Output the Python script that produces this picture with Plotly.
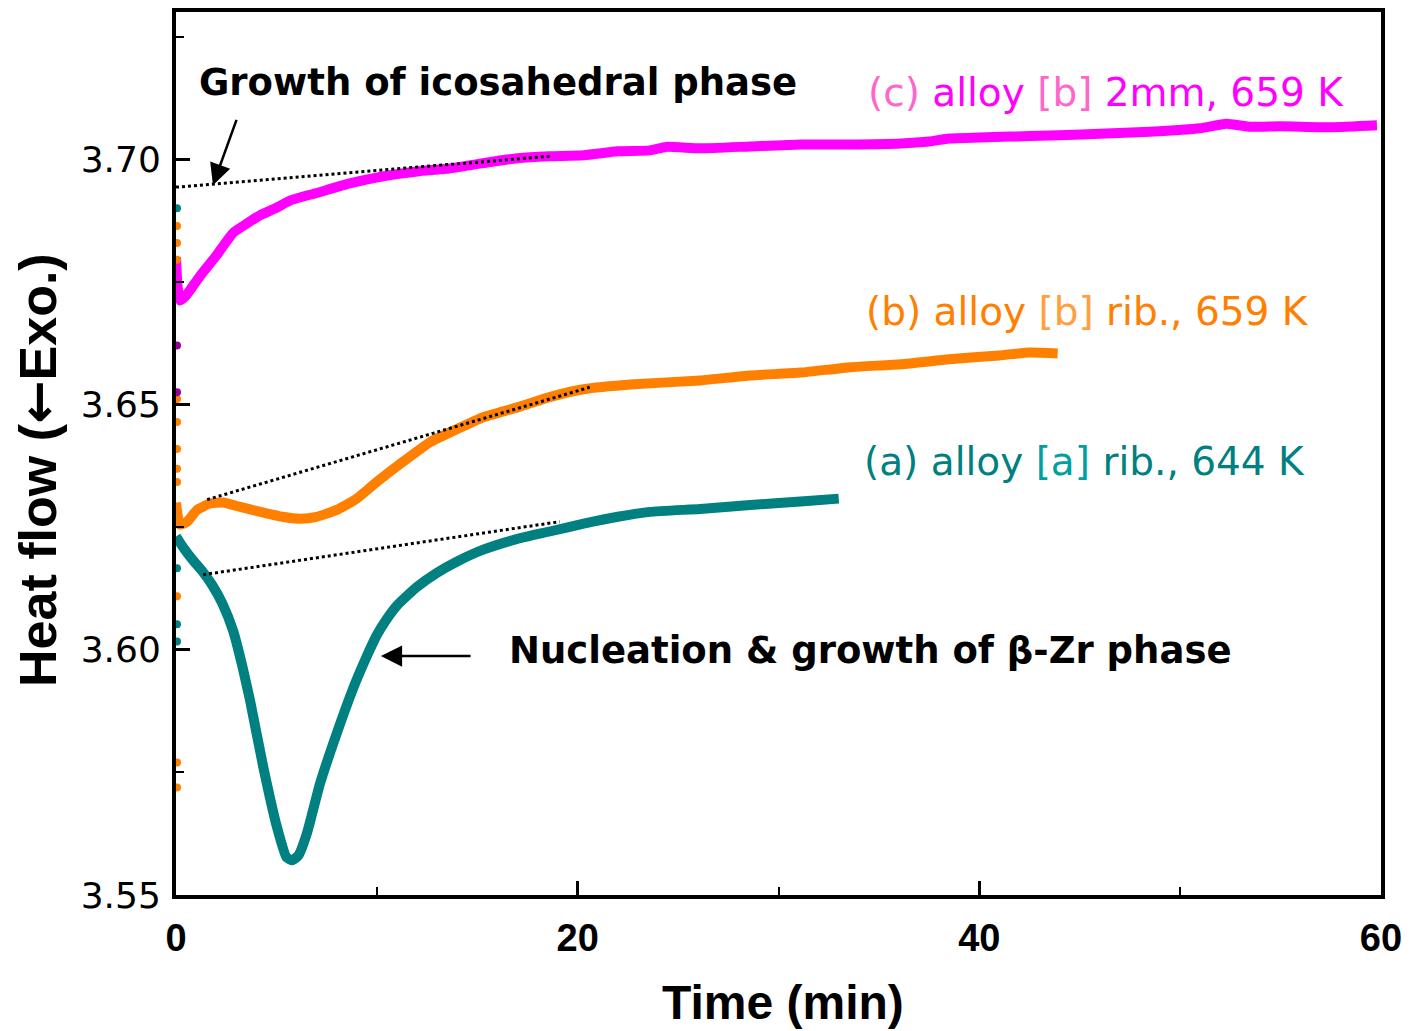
import plotly.graph_objects as go

# ---- isothermal DSC traces: heat flow vs. annealing time ----
# (a) alloy [a] ribbon held at 644 K
time_a = [0.0, 0.4, 0.85, 1.35, 1.8, 2.3, 2.85, 3.3, 3.69, 4.35, 5.03, 5.5, 5.8, 6.1,
          6.52, 7.17, 8.0, 8.81, 9.46, 10.0, 10.5, 11.0, 12.0, 13.0, 14.0, 15.3, 17.0,
          18.6, 20.3, 22.0, 23.6, 26.1, 28.6, 31.1, 33.0]
heat_a = [3.6231, 3.6206, 3.6182, 3.6158, 3.6132, 3.6095, 3.6038, 3.5967, 3.5896,
          3.5760, 3.5638, 3.5577, 3.5571, 3.5581, 3.5626, 3.5727, 3.5829, 3.5920,
          3.5983, 3.6030, 3.6063, 3.6090, 3.6128, 3.6157, 3.6180, 3.6204, 3.6226,
          3.6241, 3.6257, 3.6271, 3.6281, 3.6287, 3.6295, 3.6302, 3.6308]

# (b) alloy [b] ribbon held at 659 K
time_b = [0.0, 0.2, 0.55, 1.05, 1.7, 2.35, 3.2, 4.2, 5.3, 6.2, 7.0, 8.0, 9.0, 10.0,
          11.3, 12.65, 14.0, 15.3, 17.0, 18.6, 20.3, 22.8, 26.1, 28.6, 31.1, 33.6,
          36.1, 38.5, 41.0, 42.5, 43.9]
heat_b = [3.6300, 3.6255, 3.6261, 3.6285, 3.6298, 3.6300, 3.6291, 3.6281, 3.6271,
          3.6267, 3.6271, 3.6285, 3.6308, 3.6342, 3.6383, 3.6423, 3.6450, 3.6474,
          3.6494, 3.6515, 3.6531, 3.6541, 3.6549, 3.6559, 3.6565, 3.6576, 3.6582,
          3.6592, 3.6600, 3.6606, 3.6604]

# (c) alloy [b] 2 mm rod held at 659 K
time_c = [0.0, 0.08, 0.2, 0.5, 1.2, 2.0, 2.85, 3.5, 4.2, 5.0, 5.7, 7.0, 8.7, 10.3,
          12.0, 13.6, 15.3, 17.0, 18.6, 20.3, 22.0, 23.6, 24.4, 26.1, 28.6, 31.1,
          33.6, 36.1, 37.5, 38.5, 40.0, 41.5, 43.5, 46.0, 48.5, 51.0, 52.3, 53.5,
          55.0, 57.5, 59.8]
heat_c = [3.6800, 3.6740, 3.6712, 3.6722, 3.6762, 3.6803, 3.6850, 3.6868, 3.6886,
          3.6901, 3.6916, 3.6931, 3.6951, 3.6965, 3.6975, 3.6981, 3.6992, 3.7002,
          3.7006, 3.7008, 3.7016, 3.7018, 3.7025, 3.7022, 3.7026, 3.7030, 3.7030,
          3.7032, 3.7036, 3.7042, 3.7044, 3.7046, 3.7048, 3.7052, 3.7056, 3.7063,
          3.7072, 3.7066, 3.7067, 3.7065, 3.7069]

# start-up transients recorded right at t = 0
start_time = 0.05
start_a = [3.6900, 3.6166, 3.6052, 3.6017]
start_b = [3.6864, 3.6829, 3.6795, 3.6511, 3.6464, 3.6409, 3.6369, 3.6342,
           3.6109, 3.5770, 3.5719]
start_c = [3.6620, 3.6525]

# extrapolated baselines (dotted)
base_a_t = [1.35, 19.1]
base_a_h = [3.6153, 3.6261]
base_b_t = [1.55, 20.6]
base_b_h = [3.6306, 3.6535]
base_c_t = [0.0, 18.6]
base_c_h = [3.6943, 3.7006]

x_ticks = [0, 20, 40, 60]
y_ticks = [3.55, 3.60, 3.65, 3.70]
y_tick_text = ["3.55", "3.60", "3.65", "3.70"]

TEAL = "#008080"
ORANGE = "#FF8000"
MAGENTA = "#FF00FF"

fig = go.Figure()

for t, h, col in [(time_a, heat_a, TEAL), (time_b, heat_b, ORANGE), (time_c, heat_c, MAGENTA)]:
    fig.add_trace(go.Scatter(x=t, y=h, mode="lines",
                             line=dict(color=col, width=10, shape="spline", smoothing=0.5),
                             hoverinfo="skip"))

for pts, col in [(start_a, TEAL), (start_b, ORANGE), (start_c, "#990099")]:
    fig.add_trace(go.Scatter(x=[start_time] * len(pts), y=pts, mode="markers",
                             marker=dict(color=col, size=8), cliponaxis=False,
                             hoverinfo="skip"))

for t, h in [(base_a_t, base_a_h), (base_b_t, base_b_h), (base_c_t, base_c_h)]:
    fig.add_trace(go.Scatter(x=t, y=h, mode="lines",
                             line=dict(color="black", width=3, dash="dot"),
                             hoverinfo="skip"))

label_font = dict(family="DejaVu Sans", size=39)
note_font = dict(family="DejaVu Sans", size=37, color="black", weight="bold")

annotations = [
    dict(x=34.36, y=3.7136, xanchor="left", yanchor="middle", showarrow=False,
         text="<span style='color:#FF66CC'>(c)</span> alloy <span style='color:#FF66CC'>[b]</span> 2mm, 659 K",
         font=dict(color=MAGENTA, **label_font)),
    dict(x=34.26, y=3.6689, xanchor="left", yanchor="middle", showarrow=False,
         text="(b) alloy <span style='color:#FFA040'>[b]</span> rib., 659 K",
         font=dict(color=ORANGE, **label_font)),
    dict(x=34.16, y=3.6383, xanchor="left", yanchor="middle", showarrow=False,
         text="(a) alloy <span style='color:#00A0A0'>[a]</span> rib., 644 K",
         font=dict(color=TEAL, **label_font)),
    dict(x=1.05, y=3.7156, xanchor="left", yanchor="middle", showarrow=False,
         text="Growth of icosahedral phase", font=note_font),
    dict(x=16.48, y=3.5999, xanchor="left", yanchor="middle", showarrow=False,
         text="Nucleation &amp; growth of β-Zr phase", font=note_font),
    # arrows
    dict(x=1.84, y=3.6947, ax=3.04, ay=3.7083, axref="x", ayref="y", text="",
         showarrow=True, arrowhead=2, arrowsize=1.7, arrowwidth=2.5, arrowcolor="black"),
    dict(x=10.2, y=3.5987, ax=14.74, ay=3.5987, axref="x", ayref="y", text="",
         showarrow=True, arrowhead=2, arrowsize=1.7, arrowwidth=2.5, arrowcolor="black"),
    # axis titles
    dict(xref="paper", yref="paper", x=-0.1145, y=0.4814, textangle=-90,
         xanchor="center", yanchor="middle", showarrow=False,
         text="Heat flow (<span style='font-family:DejaVu Sans'>←</span>Exo.)",
         font=dict(family="Liberation Sans", size=52, color="black", weight="bold")),
    dict(xref="paper", yref="paper", x=0.5037, y=-0.1218,
         xanchor="center", yanchor="middle", showarrow=False,
         text="Time (min)",
         font=dict(family="Liberation Sans", size=48, color="black", weight="bold")),
]

fig.update_layout(
    width=1412, height=1031,
    margin=dict(l=176, r=31, t=8, b=136),
    plot_bgcolor="white", paper_bgcolor="white",
    showlegend=False,
    annotations=annotations,
)

fig.update_xaxes(
    range=[0, 60], tickvals=x_ticks, ticks="inside", ticklen=14, tickwidth=3,
    tickcolor="black", showline=True, linewidth=4, linecolor="black", mirror=True,
    showgrid=False, zeroline=False, ticklabelstandoff=6,
    tickfont=dict(family="Liberation Sans", size=38, color="black", weight="bold"),
    minor=dict(ticks="inside", dtick=10, tick0=0, ticklen=8, tickwidth=2,
               tickcolor="black", showgrid=False),
)
fig.update_yaxes(
    range=[3.55, 3.73], tickvals=y_ticks, ticktext=y_tick_text, ticks="inside",
    ticklen=14, tickwidth=3, tickcolor="black", showline=True, linewidth=4,
    linecolor="black", mirror=True, showgrid=False, zeroline=False,
    ticklabelstandoff=4,
    tickfont=dict(family="DejaVu Sans", size=36, color="black"),
    minor=dict(ticks="inside", dtick=0.025, tick0=3.55, ticklen=8, tickwidth=2,
               tickcolor="black", showgrid=False),
)

fig.write_html("out.html")
